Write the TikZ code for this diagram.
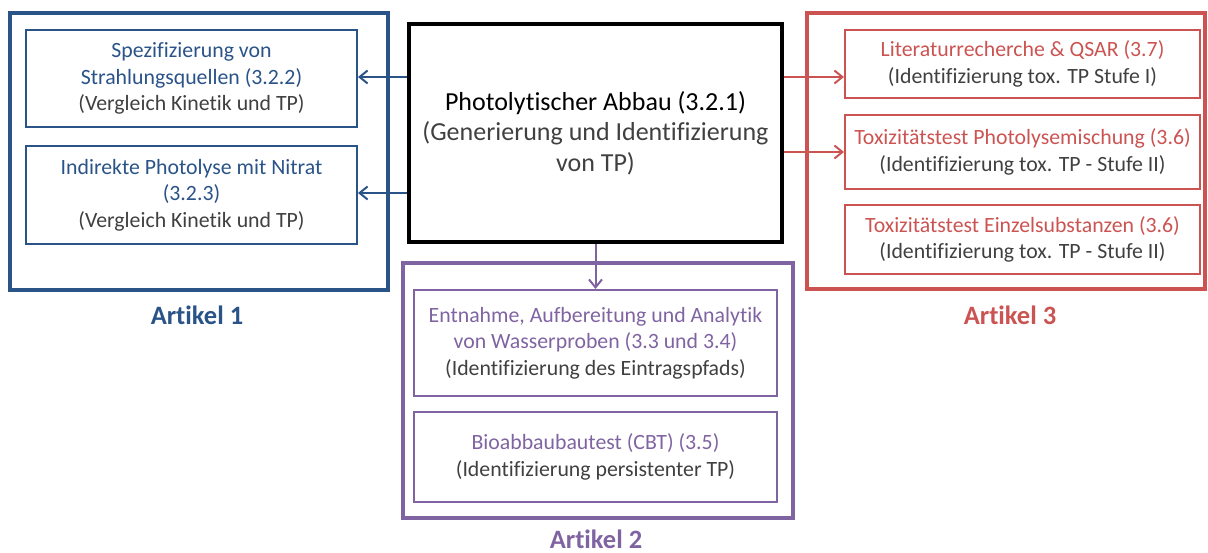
\documentclass[tikz,border=0pt]{standalone}
\usepackage{fontspec}
\setmainfont{Carlito}[Ligatures=NoCommon]
\usetikzlibrary{arrows.meta}
\definecolor{abl}{HTML}{2A5388}
\definecolor{ared}{HTML}{CB5452}
\definecolor{apu}{HTML}{8064A2}
\definecolor{subtxt}{HTML}{404040}
\begin{document}
\begin{tikzpicture}[x=1pt,y=-1pt,
  frame/.style={draw=#1, line width=3.2pt, inner sep=0pt},
  inbox/.style={draw=#1, line width=2pt, text=#1, align=center, inner sep=0pt,
    font=\fontsize{21.8}{26.5}\selectfont},
  mainbox/.style={draw=black, line width=4pt, align=center, inner sep=0pt,
    font=\fontsize{26}{30.5}\selectfont},
  label/.style={text=#1, font=\fontsize{26.5}{30}\selectfont\bfseries},
  conn/.style={draw=#1, line width=2pt, -{Straight Barb[length=8pt,width=13pt,line width=2pt]}}
]
\useasboundingbox (0,0) rectangle (1208,553);

% Artikel 1
\node[frame=abl, minimum width=378pt, minimum height=277pt] (f1) at (199,151.5) {};
\node[inbox=abl, minimum width=331pt, minimum height=97pt] (s1) at (191.5,78.5)
  {Spezifizierung von\\Strahlungsquellen (3.2.2)\\{\color{subtxt}(Vergleich Kinetik und TP)}};
\node[inbox=abl, minimum width=331pt, minimum height=98pt] (s2) at (191.5,195)
  {Indirekte Photolyse mit Nitrat\\(3.2.3)\\{\color{subtxt}(Vergleich Kinetik und TP)}};
\node[label=abl] (l1) at (197,315) {Artikel 1};

% central experiment
\node[mainbox, minimum width=373pt, minimum height=218pt] (main) at (595.5,133)
  {Photolytischer Abbau (3.2.1)\\{\color{subtxt}(Generierung und Identifizierung}\\{\color{subtxt}von TP)}};

% Artikel 3
\node[frame=ared, minimum width=398pt, minimum height=276pt] (f3) at (1006,151) {};
\node[inbox=ared, minimum width=355pt, minimum height=68pt] (r1) at (1022.5,64)
  {Literaturrecherche \& QSAR (3.7)\\{\color{subtxt}(Identifizierung tox. TP Stufe I)}};
\node[inbox=ared, minimum width=355pt, minimum height=74pt] (r2) at (1022.5,152)
  {Toxizitätstest Photolysemischung (3.6)\\{\color{subtxt}(Identifizierung tox. TP - Stufe II)}};
\node[inbox=ared, minimum width=355pt, minimum height=69pt] (r3) at (1022.5,239.5)
  {Toxizitätstest Einzelsubstanzen (3.6)\\{\color{subtxt}(Identifizierung tox. TP - Stufe II)}};
\node[label=ared] (l3) at (1010,315) {Artikel 3};

% Artikel 2
\node[frame=apu, minimum width=390pt, minimum height=255pt] (f2) at (598,390.5) {};
\node[inbox=apu, minimum width=363pt, minimum height=106pt] (p1) at (595.5,343)
  {Entnahme, Aufbereitung und Analytik\\von Wasserproben (3.3 und 3.4)\\{\color{subtxt}(Identifizierung des Eintragspfads)}};
\node[inbox=apu, minimum width=363pt, minimum height=90pt] (p2) at (595.5,457)
  {Bioabbaubautest (CBT) (3.5)\\{\color{subtxt}(Identifizierung persistenter TP)}};
\node[label=apu] (l2) at (596,539) {Artikel 2};

% connectors
\coordinate (ya) at (0,77);
\coordinate (yb) at (0,193);
\coordinate (yc) at (0,152);
\draw[conn=abl] (main.west |- ya) -- (s1.east |- ya);
\draw[conn=abl] (main.west |- yb) -- (s2.east |- yb);
\draw[conn=ared] (main.east |- ya) -- (r1.west |- ya);
\draw[conn=ared] (main.east |- yc) -- (r2.west |- yc);
\draw[conn=apu] (main.south) -- (p1.north);
\end{tikzpicture}
\end{document}
